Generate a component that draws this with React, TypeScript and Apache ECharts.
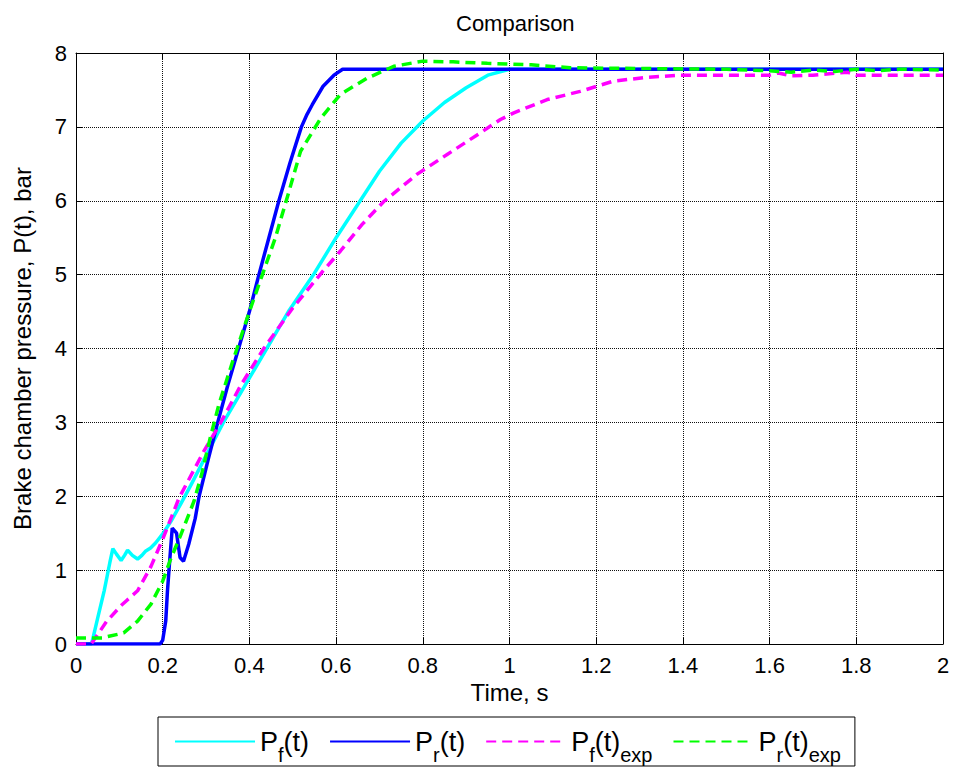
import React, { useEffect, useRef } from "react";
import * as echarts from "echarts";

const FONT = "'Liberation Sans', Arial, Helvetica, sans-serif";

// Front brake chamber, simulation
const pfT = [0, 0.036, 0.05, 0.065, 0.078, 0.085, 0.093, 0.104, 0.112, 0.119, 0.13, 0.142, 0.152, 0.161, 0.172, 0.184, 0.2, 0.219, 0.242, 0.265, 0.3, 0.34, 0.39, 0.44, 0.49, 0.55, 0.6, 0.65, 0.7, 0.75, 0.8, 0.85, 0.9, 0.95, 1.0, 2.0];
const pfP = [0, 0, 0.35, 0.72, 1.1, 1.29, 1.22, 1.13, 1.2, 1.27, 1.2, 1.15, 1.2, 1.26, 1.3, 1.37, 1.49, 1.66, 1.9, 2.15, 2.55, 3.0, 3.5, 4.0, 4.5, 5.02, 5.5, 5.95, 6.4, 6.78, 7.08, 7.33, 7.53, 7.7, 7.78, 7.78];

// Rear brake chamber, simulation
const prT = [0, 0.194, 0.2, 0.207, 0.211, 0.215, 0.222, 0.232, 0.24, 0.248, 0.26, 0.275, 0.284, 0.305, 0.327, 0.35, 0.375, 0.4, 0.422, 0.445, 0.468, 0.493, 0.508, 0.52, 0.533, 0.545, 0.57, 0.595, 0.615, 2.0];
const prP = [0, 0, 0.05, 0.31, 0.72, 1.04, 1.57, 1.5, 1.17, 1.12, 1.35, 1.7, 2.0, 2.5, 3.0, 3.5, 4.0, 4.5, 5.0, 5.5, 6.0, 6.5, 6.78, 7.0, 7.17, 7.3, 7.55, 7.7, 7.78, 7.78];

// Front brake chamber, experiment
const pfeT = [0, 0.035, 0.07, 0.104, 0.119, 0.142, 0.173, 0.2, 0.238, 0.295, 0.334, 0.38, 0.433, 0.5, 0.57, 0.61, 0.66, 0.71, 0.787, 0.857, 0.933, 0.979, 1.01, 1.087, 1.163, 1.24, 1.318, 1.394, 1.5, 1.6, 1.62, 1.65, 1.7, 1.78, 1.8, 1.85, 2.0];
const pfeP = [0, 0, 0.3, 0.52, 0.6, 0.72, 1.05, 1.42, 1.98, 2.61, 3.0, 3.5, 4.0, 4.55, 5.05, 5.32, 5.68, 5.99, 6.36, 6.63, 6.92, 7.1, 7.19, 7.37, 7.48, 7.62, 7.67, 7.7, 7.7, 7.7, 7.73, 7.69, 7.7, 7.74, 7.7, 7.7, 7.7];

// Rear brake chamber, experiment
const preT = [0, 0.06, 0.073, 0.11, 0.142, 0.173, 0.2, 0.219, 0.242, 0.272, 0.29, 0.31, 0.33, 0.36, 0.4, 0.43, 0.46, 0.49, 0.518, 0.565, 0.61, 0.672, 0.733, 0.8, 0.87, 0.949, 1.05, 1.14, 1.3, 1.5, 1.6, 1.65, 1.7, 1.75, 1.8, 1.85, 1.9, 2.0];
const preP = [0.08, 0.08, 0.1, 0.15, 0.31, 0.54, 0.85, 1.16, 1.48, 1.93, 2.3, 2.8, 3.25, 3.8, 4.5, 5.0, 5.5, 6.1, 6.67, 7.12, 7.44, 7.66, 7.82, 7.89, 7.88, 7.86, 7.84, 7.8, 7.79, 7.78, 7.76, 7.74, 7.77, 7.75, 7.78, 7.76, 7.78, 7.77];

const seriesNames = ["Pf", "Pr", "Pfexp", "Prexp"];
const legendLabels: Record<string, string> = {
  Pf: "{m|P}{s|f}{m|(t)}",
  Pr: "{m|P}{s|r}{m|(t)}",
  Pfexp: "{m|P}{s|f}{m|(t)}{s|exp}",
  Prexp: "{m|P}{s|r}{m|(t)}{s|exp}",
};

const title = "Comparison";
const xName = "Time, s";
const yName = "Brake chamber pressure, P(t), bar";

const zip = (t: number[], p: number[]) => t.map((v, i) => [v, p[i]]);

export default function App() {
  const ref = useRef<HTMLDivElement>(null);
  useEffect(() => {
    if (!ref.current) return;
    const chart = echarts.init(ref.current, undefined, { renderer: "svg" });
    const gridLine = { show: true, lineStyle: { color: "#111", type: [1, 1] as any, width: 1 } };
    const axisCommon = {
      type: "value" as const,
      axisLine: { show: true, onZero: false, lineStyle: { color: "#000", width: 1 } },
      axisTick: { show: true, inside: true, length: 6, lineStyle: { color: "#000" } },
    };
    const mk = (name: string, t: number[], p: number[], color: string, dashed: boolean, z: number) => ({
      name,
      type: "line" as const,
      data: zip(t, p),
      symbol: "none",
      showSymbol: false,
      color,
      z,
      lineStyle: { color, width: 3.5, type: dashed ? ([10, 6] as any) : "solid" },
      itemStyle: { color },
    });
    chart.setOption({
      animation: false,
      backgroundColor: "#fff",
      title: {
        text: title,
        left: 451,
        top: 7,
        textStyle: { fontFamily: FONT, fontSize: 22, fontWeight: "normal", color: "#000" },
      },
      grid: { left: 76, right: 12, top: 53, bottom: 129, containLabel: false },
      legend: {
        data: seriesNames,
        left: 158,
        top: 717,
        orient: "horizontal",
        itemWidth: 80,
        itemHeight: 14,
        itemGap: 20,
        padding: [1, 14, 1, 16],
        borderColor: "#000",
        borderWidth: 1,
        backgroundColor: "#fff",
        itemStyle: { opacity: 0 },
        formatter: (n: string) => legendLabels[n],
        textStyle: {
          fontFamily: FONT,
          color: "#000",
          rich: {
            m: { fontFamily: FONT, fontSize: 27, color: "#000", lineHeight: 32, padding: [10, 0, 10, 0] },
            s: { fontFamily: FONT, fontSize: 20, color: "#000", lineHeight: 26, padding: [26, 0, 0, 0] },
          },
        },
      },
      xAxis: [
        {
          ...axisCommon,
          position: "bottom",
          min: 0,
          max: 2,
          interval: 0.2,
          name: xName,
          nameLocation: "middle",
          nameGap: 36,
          nameTextStyle: { fontFamily: FONT, fontSize: 24, color: "#000" },
          axisLabel: { fontFamily: FONT, fontSize: 22, color: "#000", margin: 10 },
          splitLine: gridLine,
        },
        {
          ...axisCommon,
          position: "top",
          min: 0,
          max: 2,
          interval: 0.2,
          axisLabel: { show: false },
          splitLine: { show: false },
        },
      ],
      yAxis: [
        {
          ...axisCommon,
          position: "left",
          min: 0,
          max: 8,
          interval: 1,
          name: yName,
          nameLocation: "middle",
          nameGap: 42,
          nameTextStyle: { fontFamily: FONT, fontSize: 24, color: "#000" },
          axisLabel: { fontFamily: FONT, fontSize: 22, color: "#000", margin: 9 },
          splitLine: gridLine,
        },
        {
          ...axisCommon,
          position: "right",
          min: 0,
          max: 8,
          interval: 1,
          axisLabel: { show: false },
          splitLine: { show: false },
        },
      ],
      series: [
        mk("Pf", pfT, pfP, "#00FFFF", false, 2),
        mk("Pr", prT, prP, "#0000FF", false, 3),
        mk("Pfexp", pfeT, pfeP, "#FF00FF", true, 4),
        mk("Prexp", preT, preP, "#00FF00", true, 5),
      ],
    });
    return () => chart.dispose();
  }, []);
  return <div ref={ref} style={{ position: "fixed", left: 0, top: 0, width: 955, height: 773 }} />;
}
